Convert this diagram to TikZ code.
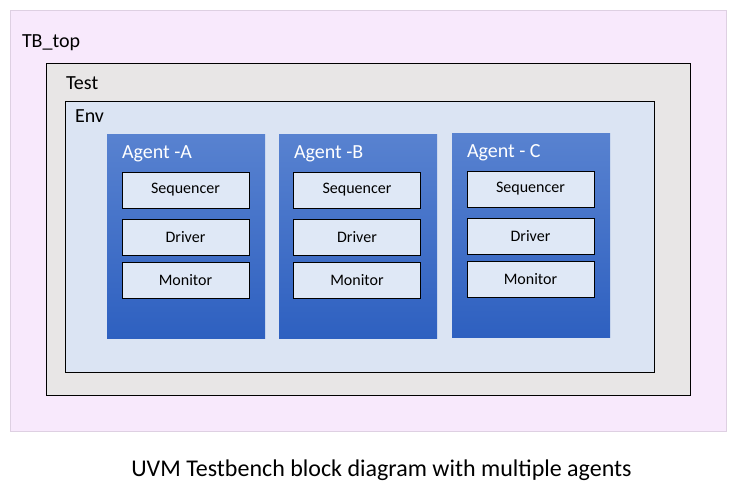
\documentclass[tikz,border=0pt]{standalone}
\usepackage{fontspec}
\setmainfont{Carlito}
\usetikzlibrary{positioning}
\definecolor{tbpink}{RGB}{248,233,252}
\definecolor{tbedge}{RGB}{222,208,226}
\definecolor{testgray}{RGB}{232,230,230}
\definecolor{envblue}{RGB}{219,228,243}
\definecolor{agenttop}{RGB}{88,130,208}
\definecolor{agentbot}{RGB}{46,96,192}
\definecolor{unitfill}{RGB}{223,232,246}
\begin{document}
\begin{tikzpicture}[
 x=1pt,y=-1pt,
 node distance=11pt,
 every node/.style={inner sep=0pt,outer sep=0pt},
 frame/.style={draw=black,line width=0.9pt},
 agent/.style={top color=agenttop,bottom color=agentbot,minimum width=158pt,minimum height=203pt},
 unit/.style={frame,fill=unitfill,minimum width=127pt,minimum height=36pt,font=\fontsize{16}{19}\selectfont},
 title/.style={anchor=base west,font=\fontsize{20}{24}\selectfont}
]
\useasboundingbox (0,0) rectangle (749,486);
\node[draw=tbedge,fill=tbpink,minimum width=716pt,minimum height=421pt] (tb) at (368,220.5) {};
\node[frame,fill=testgray,minimum width=644pt,minimum height=332pt] (test) at (368,229) {};
\node[frame,fill=envblue,minimum width=589pt,minimum height=271pt] (env) at (359.5,236.5) {};
\node[title] (tblabel) at (22,48) {TB\_top};
\node[title] (testlabel) at (66,90) {Test};
\node[title] (envlabel) at (75,123) {Env};
% agents
\node[agent] (agA) at (186,236.5) {};
\node[agent] (agB) at (358,236.5) {};
\node[agent] (agC) at (531,235.5) {};
\node[title,white] (agAlabel) at (122,159) {Agent -A};
\node[title,white] (agBlabel) at (294,159) {Agent -B};
\node[title,white] (agClabel) at (467,158) {Agent - C};
\node[unit] (seqA) at (185.5,190) {Sequencer};
\node[unit,below=of seqA] (drvA) {Driver};
\node[unit,below=7pt of drvA] (monA) {Monitor};
\node[unit] (seqB) at (357,190) {Sequencer};
\node[unit,below=of seqB] (drvB) {Driver};
\node[unit,below=7pt of drvB] (monB) {Monitor};
\node[unit] (seqC) at (530.5,189) {Sequencer};
\node[unit,below=of seqC] (drvC) {Driver};
\node[unit,below=7pt of drvC] (monC) {Monitor};
\node[anchor=base,font=\fontsize{24}{29}\selectfont] (caption) at (381.5,476) {UVM Testbench block diagram with multiple agents};
\end{tikzpicture}
\end{document}
